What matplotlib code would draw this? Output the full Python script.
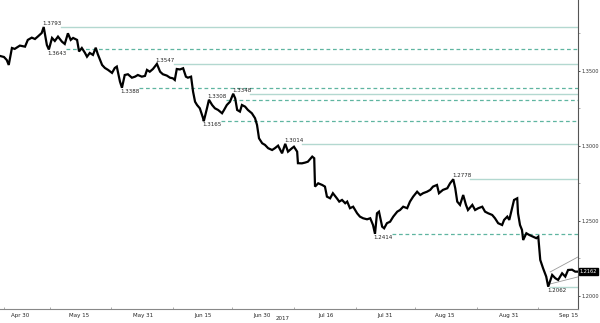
import numpy as np
import matplotlib
matplotlib.use("Agg")
import matplotlib.pyplot as plt
import matplotlib.transforms as mtransforms

# x = days since Apr 30 2017, y = price
days = [-5.0, -4.0, -3.3, -2.8, -2.0, -1.3, 0.0, 1.3, 2.0, 3.0, 3.8, 4.5, 5.5, 6.0, 6.8, 7.3,
        8.1, 8.8, 9.6, 10.6, 11.3, 12.1, 12.8, 13.4, 14.4, 14.9, 15.6, 16.4, 16.9, 17.6, 18.4,
        19.1, 19.6, 20.7, 21.4, 22.2, 23.2, 23.9, 24.4, 25.2, 25.7, 26.4, 27.2, 28.2, 29.0,
        29.7, 30.7, 31.5, 32.0, 32.7, 33.5, 34.5, 35.3, 36.0, 37.0, 37.8, 38.5, 39.0, 39.5,
        40.3, 41.1, 41.8, 42.3, 43.1, 43.6, 44.1, 44.6, 45.3, 46.1, 46.3, 47.1, 47.6, 48.4,
        49.1, 49.9, 50.9, 51.4, 52.1, 52.9, 53.7, 54.2, 54.7, 55.4, 55.9, 56.7, 57.4, 58.4,
        59.2, 59.7, 60.2, 61.0, 61.7, 62.5, 63.5, 64.2, 65.0, 66.0, 66.8, 67.5, 68.5, 69.0,
        69.8, 70.0, 71.0, 71.8, 72.5, 73.6, 74.1, 74.3, 75.1, 76.1, 76.8, 77.3, 78.1, 78.8,
        79.8, 80.4, 81.1, 81.9, 82.4, 83.1, 83.9, 84.9, 85.6, 86.4, 87.4, 88.2, 88.9, 89.4,
        89.9, 90.4, 91.2, 91.7, 92.4, 93.2, 94.0, 95.0, 95.7, 96.5, 97.5, 98.2, 99.0, 100.0,
        100.8, 101.5, 102.5, 103.3, 104.0, 105.0, 105.5, 106.5, 107.6, 108.3, 109.1, 109.6,
        110.1, 110.8, 111.6, 112.3, 112.8, 113.9, 114.6, 115.4, 116.4, 117.1, 117.9, 118.9,
        119.6, 120.4, 121.4, 121.9, 122.7, 123.2, 123.9, 124.4, 125.2, 125.4, 125.9, 126.4,
        126.7, 127.5, 128.2, 129.2, 130.0, 130.5, 131.0, 131.7, 132.5, 133.0, 134.0, 134.8,
        135.5, 136.5, 137.3, 138.0, 139.0, 139.8, 140.5]
price = [1.3600, 1.3593, 1.3573, 1.3540, 1.3653, 1.3647, 1.3669, 1.3662, 1.3707, 1.3722,
         1.3713, 1.3729, 1.3753, 1.3793, 1.3673, 1.3643, 1.3720, 1.3700, 1.3729, 1.3695,
         1.3680, 1.3751, 1.3707, 1.3720, 1.3707, 1.3630, 1.3653, 1.3620, 1.3595, 1.3620,
         1.3607, 1.3655, 1.3613, 1.3540, 1.3520, 1.3507, 1.3487, 1.3520, 1.3529, 1.3429,
         1.3388, 1.3473, 1.3478, 1.3455, 1.3462, 1.3473, 1.3462, 1.3467, 1.3507, 1.3495,
         1.3513, 1.3547, 1.3495, 1.3478, 1.3469, 1.3455, 1.3451, 1.3440, 1.3513, 1.3510,
         1.3518, 1.3462, 1.3455, 1.3462, 1.3362, 1.3295, 1.3273, 1.3251, 1.3187, 1.3165,
         1.3251, 1.3308, 1.3273, 1.3251, 1.3240, 1.3218, 1.3240, 1.3273, 1.3295, 1.3348,
         1.3318, 1.3240, 1.3229, 1.3273, 1.3262, 1.3240, 1.3218, 1.3185, 1.3140, 1.3051,
         1.3018, 1.3007, 1.2985, 1.2973, 1.2985, 1.3002, 1.2951, 1.3014, 1.2962, 1.2985,
         1.2995, 1.2962, 1.2885, 1.2884, 1.2889, 1.2895, 1.2929, 1.2918, 1.2729, 1.2751,
         1.2740, 1.2729, 1.2662, 1.2651, 1.2685, 1.2651, 1.2629, 1.2640, 1.2618, 1.2629,
         1.2585, 1.2595, 1.2551, 1.2529, 1.2518, 1.2511, 1.2518, 1.2473, 1.2414, 1.2551,
         1.2562, 1.2462, 1.2451, 1.2485, 1.2495, 1.2529, 1.2562, 1.2573, 1.2595, 1.2585,
         1.2629, 1.2662, 1.2695, 1.2673, 1.2685, 1.2695, 1.2707, 1.2729, 1.2740, 1.2685,
         1.2707, 1.2718, 1.2751, 1.2778, 1.2718, 1.2629, 1.2607, 1.2673, 1.2607, 1.2573,
         1.2607, 1.2573, 1.2585, 1.2595, 1.2562, 1.2551, 1.2540, 1.2518, 1.2485, 1.2473,
         1.2507, 1.2529, 1.2507, 1.2585, 1.2640, 1.2651, 1.2551, 1.2473, 1.2440, 1.2373,
         1.2418, 1.2407, 1.2395, 1.2385, 1.2395, 1.2240, 1.2185, 1.2129, 1.2062, 1.2140,
         1.2118, 1.2107, 1.2151, 1.2129, 1.2173, 1.2175, 1.2162, 1.2162]

# marked swing levels: day, value, solid/dashed, high/low
level_day = [6.0, 7.3, 25.7, 34.5, 46.3, 47.6, 53.7, 66.8, 89.4, 109.1, 133.0]
level_val = [1.3793, 1.3643, 1.3388, 1.3547, 1.3165, 1.3308, 1.3348, 1.3014, 1.2414, 1.2778, 1.2062]
level_solid = [True, False, False, True, False, False, True, True, False, True, True]
level_high = [True, False, False, True, False, True, True, True, False, True, False]

# channel over the last days
chan_days = [133.5, 140.5]
chan_upper = [1.2160, 1.2260]
chan_lower = [1.2080, 1.2127]

last_price = 1.2162

tick_days = [0, 15, 31, 46, 61, 77, 92, 107, 123, 138]
tick_labels = ['Apr 30', 'May 15', 'May 31', 'Jun 15', 'Jun 30', 'Jul 16', 'Jul 31',
               'Aug 15', 'Aug 31', 'Sep 15']
y_ticks = [1.20, 1.25, 1.30, 1.35]

xmin, xmax = -5.0, 140.5

fig = plt.figure(figsize=(6.0, 3.23), dpi=100)
ax = fig.add_axes([0, 14 / 323, 578 / 600, 309 / 323])

solid_col = '#b3d8d0'
dash_col = '#5fb5a0'
for d, v, solid, high in zip(level_day, level_val, level_solid, level_high):
    start = d + 4.3 if d + 4.3 < xmax - 6 else d + 0.5
    if solid:
        ax.plot([start, xmax], [v, v], color=solid_col, lw=1.0, zorder=1)
    else:
        ax.plot([start, xmax], [v, v], color=dash_col, lw=0.9, ls=(0, (3, 2.2)), zorder=1)
    ax.text(d - 0.3, v + (0.0006 if high else -0.0008), f'{v:.4f}', fontsize=4,
            ha='left', va='bottom' if high else 'top', color='#222222', zorder=4)

ax.plot(chan_days, chan_upper, color='#9a9a9a', lw=0.6, zorder=2)
ax.plot(chan_days, chan_lower, color='#9a9a9a', lw=0.6, zorder=2)

ax.plot(days, price, color='black', lw=1.6, solid_joinstyle='miter', zorder=3)

ax.set_xlim(xmin, xmax)
ax.set_ylim(1.1913, 1.3973)

ax.spines['left'].set_visible(False)
ax.spines['top'].set_visible(False)
ax.spines['right'].set_color('#555555')
ax.spines['bottom'].set_color('#888888')
ax.spines['right'].set_linewidth(0.8)
ax.spines['bottom'].set_linewidth(0.8)

ax.yaxis.tick_right()
ax.set_yticks(y_ticks)
ax.set_yticklabels([f'{t:.4f}' for t in y_ticks])
ax.set_yticks([1.225, 1.275, 1.325, 1.375], minor=True)
ax.tick_params(axis='y', which='major', length=1.5, width=0.6, pad=0.8, labelsize=3.6,
               colors='#333333')
ax.tick_params(axis='y', which='minor', length=1.5, width=0.5, color='#888888')

ax.set_xticks(tick_days)
ax.set_xticklabels(tick_labels)
mids = [(a + b) / 2 for a, b in zip(tick_days[:-1], tick_days[1:])] + [tick_days[0] - 4]
ax.set_xticks(mids, minor=True)
ax.tick_params(axis='x', which='major', length=0, pad=3, labelsize=4, colors='#222222')
ax.tick_params(axis='x', which='minor', length=1.5, width=0.5, direction='in', color='#888888')

fig.text(283 / 600, 1 - 319 / 323, '2017', fontsize=4, ha='center', va='center', color='#222222')

trans = mtransforms.blended_transform_factory(ax.transAxes, ax.transData)
ax.text(1.003, last_price, f'{last_price:.4f}', transform=trans, fontsize=3.6, color='white',
        ha='left', va='center', clip_on=False, zorder=5,
        bbox=dict(boxstyle='square,pad=0.2', fc='black', ec='black'))

fig.savefig('out.png', dpi=100)
